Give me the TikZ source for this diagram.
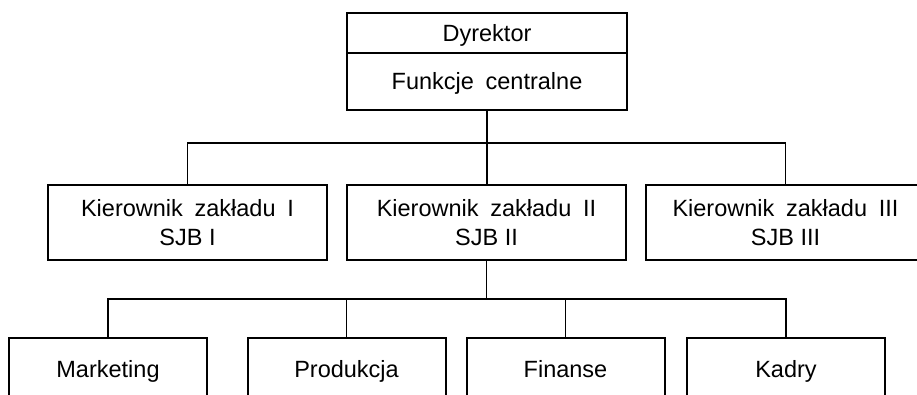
\documentclass[tikz,border=0pt]{standalone}
\usepackage{fontspec}
\setmainfont{Liberation Sans}[WordSpace=1.8]
% ordinary-width space inside the unit codes
\newcommand{\nsp}{\hspace{0.28em}}
\begin{document}
\begin{tikzpicture}[x=1pt,y=-1pt,
  box/.style={draw, line width=2pt, inner sep=0pt, align=center,
    font=\fontsize{23.5}{28.5}\selectfont},
  oneline/.style={box, text height=16.8pt, text depth=0pt},
  headbox/.style={oneline, minimum width=280pt},
  unitbox/.style={box, minimum width=279pt, minimum height=75pt},
  deptbox/.style={oneline, minimum width=198pt, minimum height=62pt},
  link/.style={line width=1.4pt}]
\useasboundingbox (0,0) rectangle (917,394);
\clip (0,0) rectangle (917,394);

% head office
\node[headbox, minimum height=40pt] (dyr) at (487,33) {Dyrektor};
\node[headbox, minimum height=57pt] (fun) at (487,81.5) {Funkcje  centralne};

% plant managers
\node[unitbox] (m1) at (187.5,222.5) {Kierownik  zakładu  I\\SJB\nsp I};
\node[unitbox] (m2) at (486.5,222.5) {Kierownik  zakładu  II\\SJB\nsp II};
\node[unitbox] (m3) at (785.5,222.5) {Kierownik  zakładu  III\\SJB\nsp III};

% departments of plant II
\node[deptbox] (d1) at (108,369) {Marketing};
\node[deptbox] (d2) at (346.5,369) {Produkcja};
\node[deptbox] (d3) at (565.5,369) {Finanse};
\node[deptbox] (d4) at (786,369) {Kadry};

% bus lines
\coordinate (busA) at (0,143);
\coordinate (busB) at (0,299);

\draw[link] (fun.south) -- (fun.south |- m2.north);
\draw[link] (m1.north) -- (m1.north |- busA) -- (m3.north |- busA) -- (m3.north);

\draw[link] (m2.south) -- (m2.south |- busB);
\draw[link] (d1.north) -- (d1.north |- busB) -- (d4.north |- busB) -- (d4.north);
\draw[link] (d2.north) -- (d2.north |- busB);
\draw[link] (d3.north) -- (d3.north |- busB);
\end{tikzpicture}
\end{document}
